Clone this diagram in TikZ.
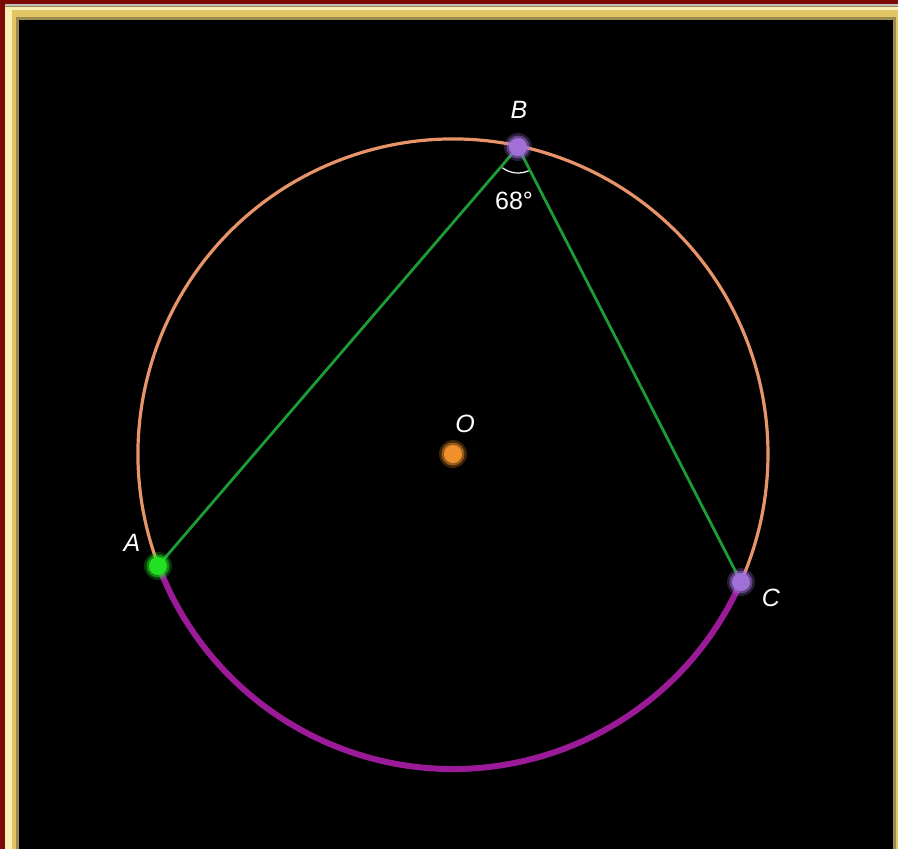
\documentclass[tikz,border=0pt]{standalone}
\usepackage{fontspec}
\setmainfont{Liberation Sans}
\definecolor{frred}{HTML}{7E0A06}
\definecolor{gold}{HTML}{E2C666}
\definecolor{goldlt}{HTML}{FAF0B4}
\definecolor{golddk}{HTML}{9C8A4E}
\definecolor{salmon}{HTML}{E8946A}
\definecolor{arcpurple}{HTML}{9A1A98}
\definecolor{chord}{HTML}{1C9C36}
\definecolor{ptgreen}{HTML}{22E022}
\definecolor{ptlav}{HTML}{A070D8}
\definecolor{ptorange}{HTML}{F0902A}
\tikzset{
  lbl/.style={text=white,font=\fontsize{25}{27}\selectfont\itshape,inner sep=0pt},
  anglbl/.style={text=white,font=\fontsize{25}{27}\selectfont,inner sep=0pt},
  pt/.style={circle,inner sep=0pt,minimum size=#1},
}
\begin{document}
\begin{tikzpicture}[x=1pt,y=-1pt]
\useasboundingbox (0,0) rectangle (898,849);
% frame
\fill[frred] (0,0) rectangle (898,849);
\fill[gray!50] (5,4) rectangle (898,6);
\fill[golddk] (5,6) rectangle (898,849);
\fill[goldlt] (5,7) rectangle (898,849);
\fill[gold] (12,10) rectangle (898,849);
\fill[golddk] (16,17) rectangle (896,849);
\fill[black] (19,20) rectangle (893,849);
% circle (screen angles, y down)
\coordinate (O) at (453,454);
\coordinate (A) at (158,566);
\coordinate (B) at (518,147);
\coordinate (C) at (741,582);
\draw[salmon,line width=3.2] (O) ++(159.4:315) arc[start angle=159.4,end angle=383.8,radius=315];
\draw[arcpurple,line width=6] (O) ++(23.8:315) arc[start angle=23.8,end angle=159.4,radius=315];
% chords
\draw[chord,line width=2.8] (A) -- (B) -- (C);
% angle mark
\draw[white,line width=1.2] (B) ++(66:26) arc[start angle=66,end angle=127,radius=26];
\node[anglbl] (ang) at (514,201) {68°};
% points with glow
\foreach \p/\c in {A/ptgreen,B/ptlav,C/ptlav,O/ptorange}{
  \node[pt=28,fill=\c,opacity=0.25] at (\p) {};
  \node[pt=23,fill=\c,opacity=0.5] at (\p) {};
  \node[pt=18,fill=\c] at (\p) {};
}
\node[lbl] (la) at (132,543) {A};
\node[lbl] (lb) at (519,110) {B};
\node[lbl] (lc) at (771,598) {C};
\node[lbl] (lo) at (465,424) {O};
\end{tikzpicture}
\end{document}
